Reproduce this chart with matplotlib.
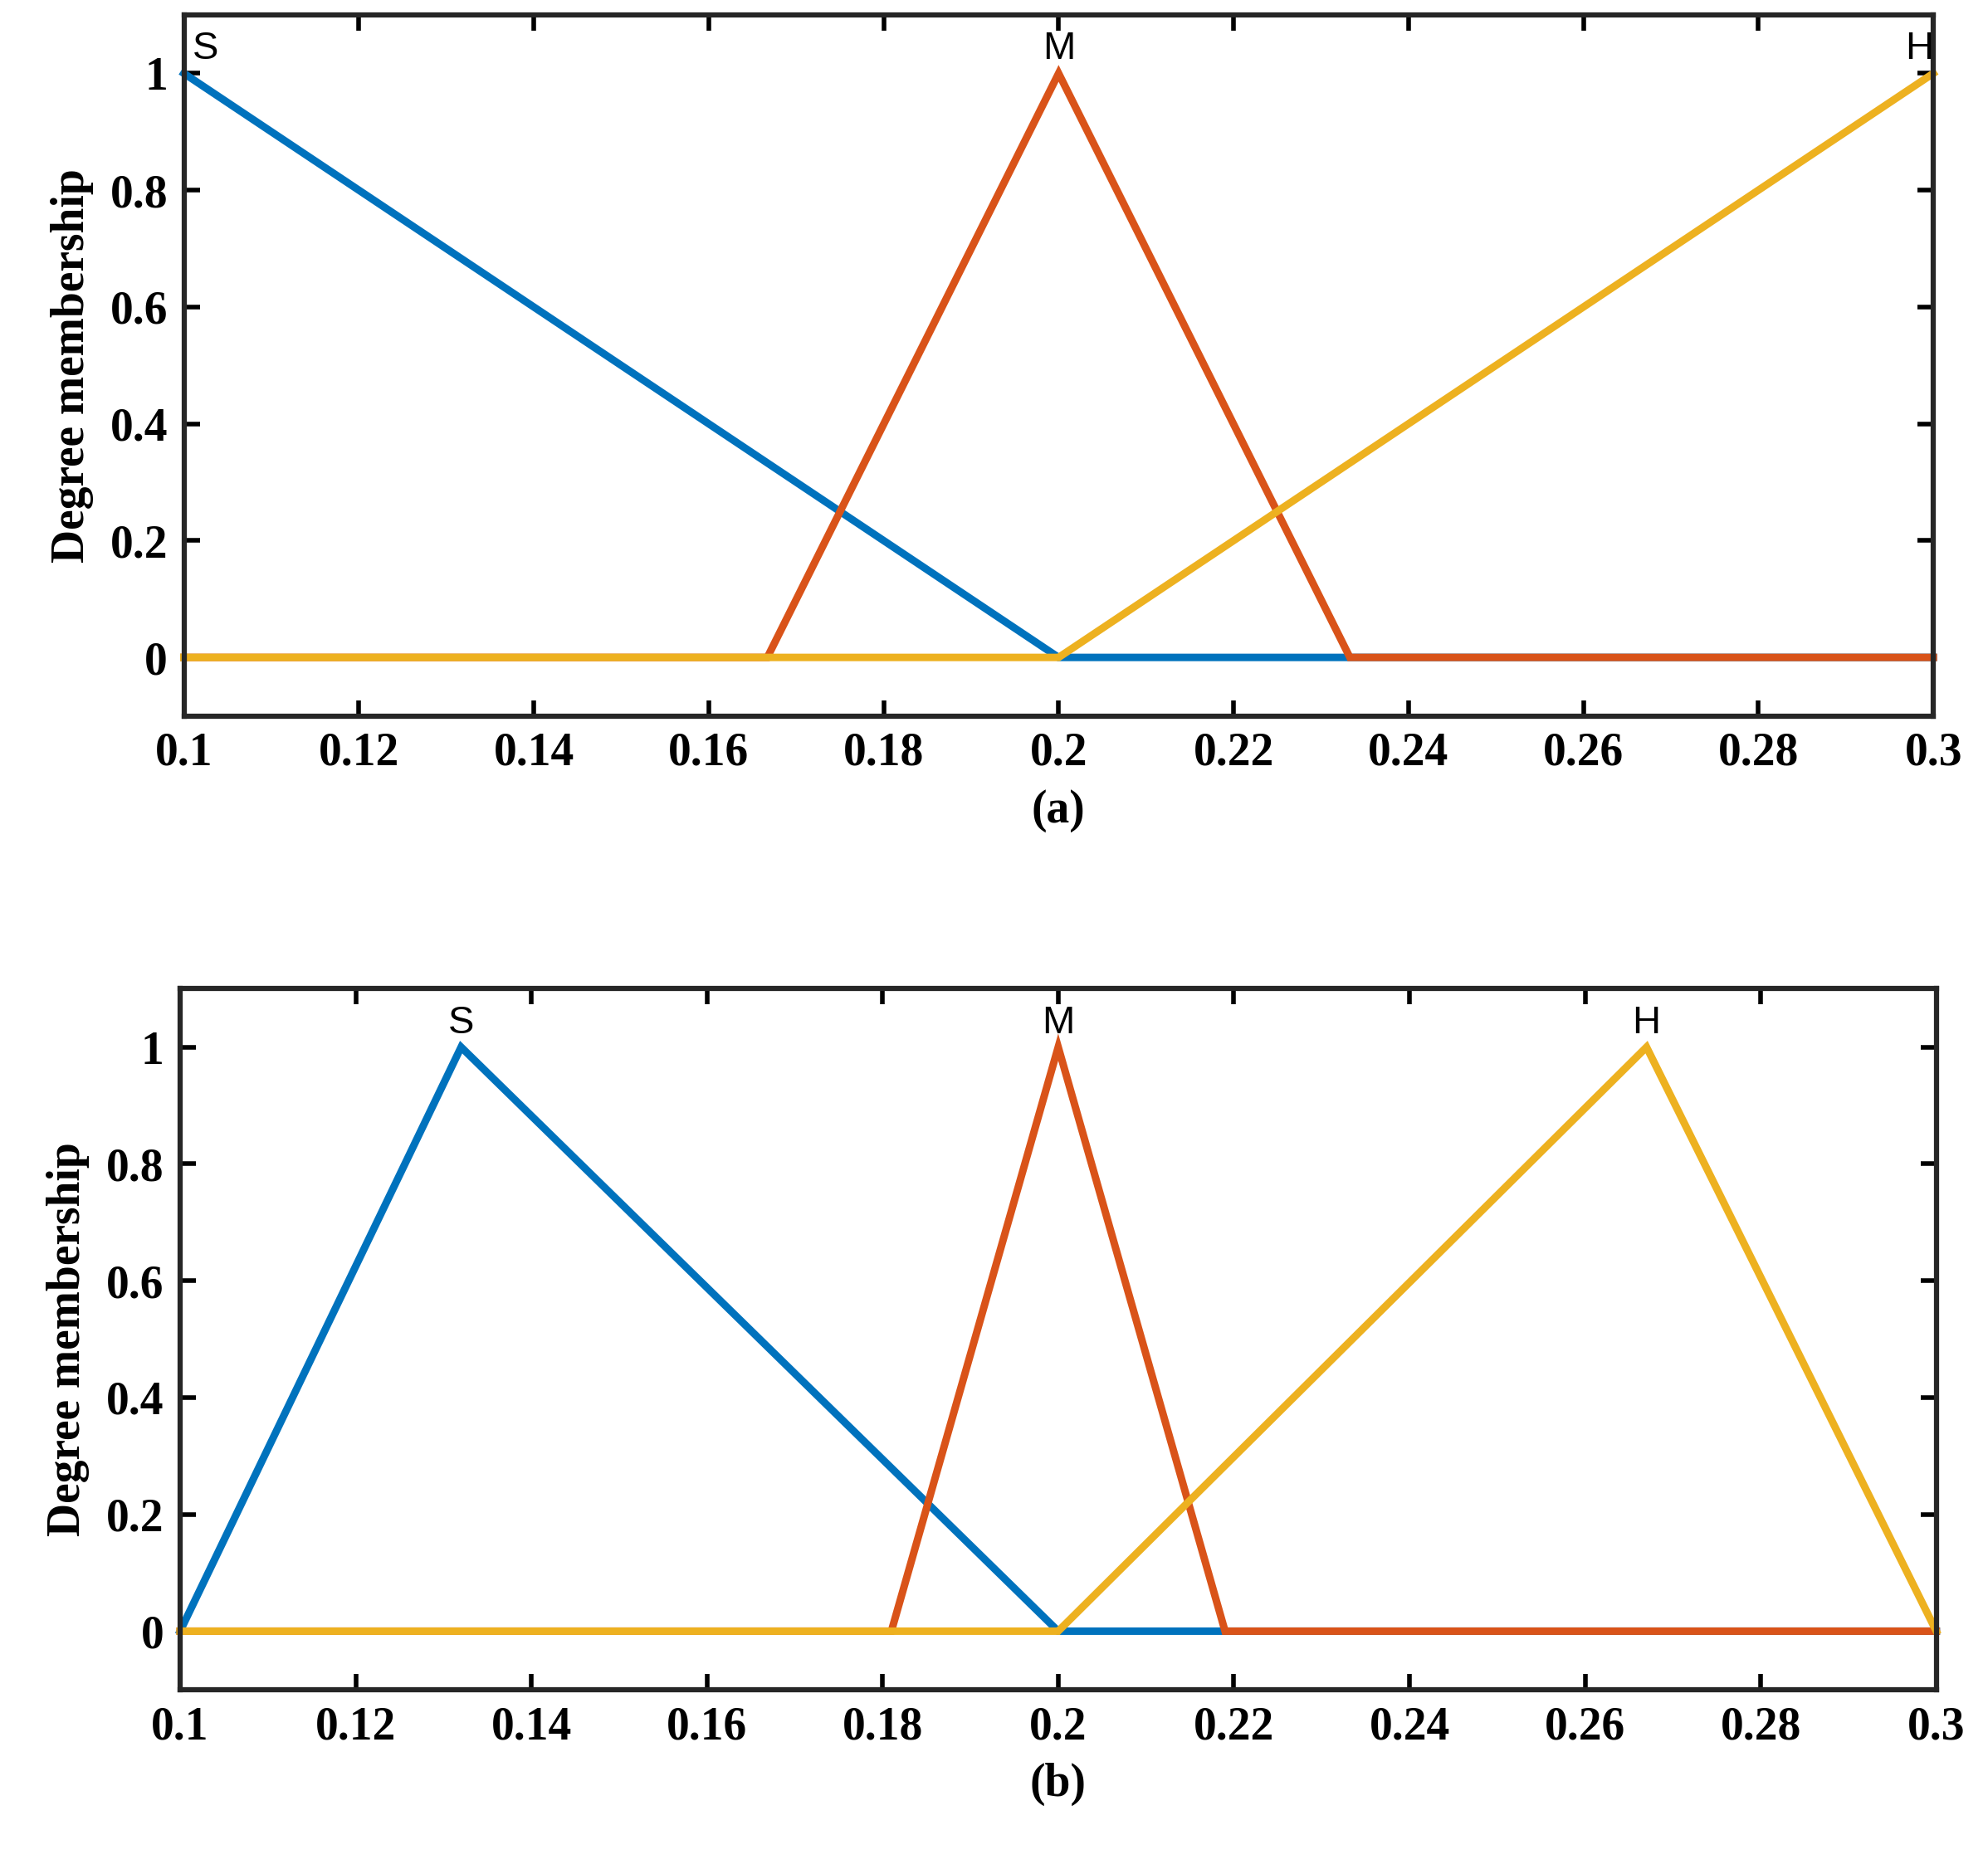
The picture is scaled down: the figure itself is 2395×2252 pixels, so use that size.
import matplotlib
matplotlib.use("Agg")
import matplotlib.pyplot as plt

colors = ["#0072BD", "#D95319", "#EDB120"]
names = ["S", "M", "H"]
# panel (a)
a_x = [[0.1, 0.2, 0.3], [0.1, 0.1667, 0.2, 0.2333, 0.3], [0.1, 0.2, 0.3]]
a_y = [[1, 0, 0], [0, 0, 1, 0, 0], [0, 0, 1]]
a_lbl = [(0.1, "S"), (0.2, "M"), (0.3, "H")]
# panel (b)
b_x = [[0.1, 0.132, 0.2, 0.3], [0.1, 0.181, 0.2, 0.219, 0.3], [0.1, 0.2, 0.267, 0.3]]
b_y = [[0, 1, 0, 0], [0, 0, 1, 0, 0], [0, 0, 1, 0]]
b_lbl = [(0.132, "S"), (0.2, "M"), (0.267, "H")]
xticks = [0.1, 0.12, 0.14, 0.16, 0.18, 0.2, 0.22, 0.24, 0.26, 0.28, 0.3]
xtl = ["0.1", "0.12", "0.14", "0.16", "0.18", "0.2", "0.22", "0.24", "0.26", "0.28", "0.3"]
yticks = [0, 0.2, 0.4, 0.6, 0.8, 1]
ytl = ["0", "0.2", "0.4", "0.6", "0.8", "1"]

fig = plt.figure(figsize=(23.95, 22.52), dpi=100)
serif = {"family": "Liberation Serif", "weight": "bold", "size": 40}
rects = [[0.0925, 0.617, 0.88, 0.375], [0.0906, 0.096, 0.8834, 0.375]]
for rect, xs, ys, lbls, cap in [(rects[0], a_x, a_y, a_lbl, "(a)"), (rects[1], b_x, b_y, b_lbl, "(b)")]:
    ax = fig.add_axes(rect)
    for x, y, c in zip(xs, ys, colors):
        ax.plot(x, y, color=c, lw=6.5, solid_joinstyle="miter", clip_on=False)
    for (lx, t) in lbls:
        ha = "center"
        if lx == 0.1: ha = "left"
        if lx == 0.3: ha = "right"
        ax.text(lx + (0.001 if ha == "left" else 0), 1.01, t, ha=ha, va="bottom",
                fontsize=34, family="Liberation Sans")
    ax.set_xlim(0.1, 0.3)
    ax.set_ylim(-0.1, 1.1)
    ax.set_xticks(xticks)
    ax.set_xticklabels(xtl, fontdict=serif)
    ax.set_yticks(yticks)
    ax.set_yticklabels(ytl, fontdict=serif)
    ax.tick_params(direction="in", length=14, width=4, top=True, right=True, pad=14)
    for s in ax.spines.values():
        s.set_linewidth(4.5)
        s.set_color("#262626")
    ax.set_ylabel("Degree membership", fontdict=serif, labelpad=14)
    ax.set_xlabel(cap, fontdict=serif, labelpad=12)
fig.savefig("out.png", dpi=100)
